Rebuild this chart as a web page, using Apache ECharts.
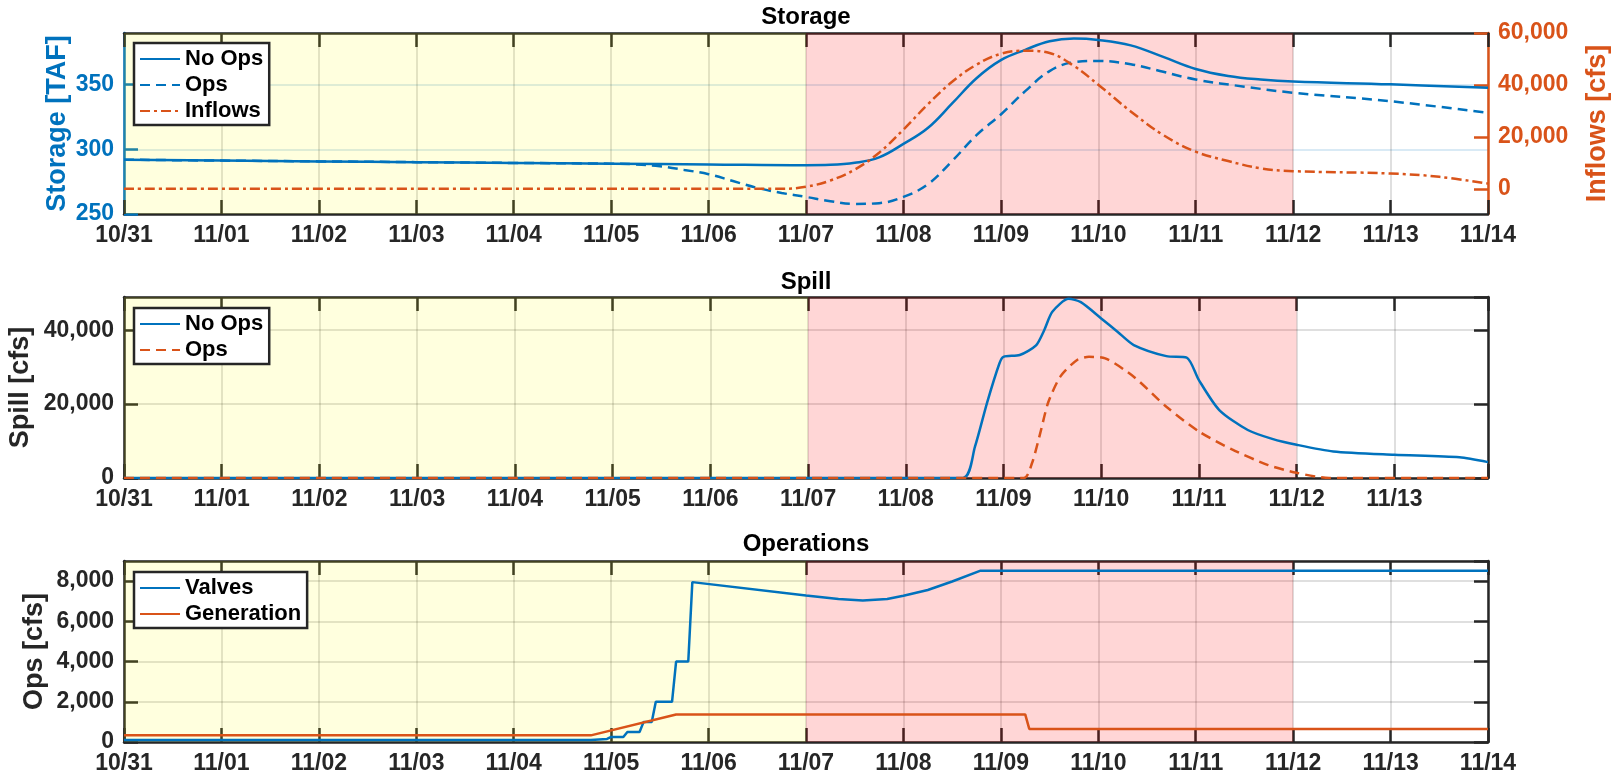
<!DOCTYPE html>
<html>
<head>
<meta charset="utf-8">
<script src="https://cdn.jsdelivr.net/npm/echarts@6/dist/echarts.min.js"></script>
<style>
html, body { margin: 0; padding: 0; background: #fff; }
#chart { width: 1620px; height: 776px; }
</style>
</head>
<body>
<div id="chart"></div>
<script>
// x tick labels, one per day
const dayLabels = ['10/31', '11/01', '11/02', '11/03', '11/04', '11/05', '11/06', '11/07',
  '11/08', '11/09', '11/10', '11/11', '11/12', '11/13', '11/14'];

// shaded periods
const yellowSpan = ['10/31 00', '11/07 00'];
const redSpan = ['11/07 00', '11/12 00'];

// Storage [TAF]
const storageNoOps = [
  ['10/31 00', 292.0], ['11/01 00', 291.3], ['11/02 00', 290.7], ['11/03 00', 290.1],
  ['11/04 00', 289.5], ['11/05 00', 288.9], ['11/06 00', 288.3], ['11/07 00', 287.7],
  ['11/07 06', 288.0], ['11/07 12', 289.6], ['11/07 18', 293.8], ['11/08 00', 304.2],
  ['11/08 06', 316.5], ['11/08 12', 335.5], ['11/08 18', 355.0], ['11/09 00', 369.0],
  ['11/09 06', 377.0], ['11/09 12', 383.6], ['11/09 18', 385.7], ['11/10 00', 384.6],
  ['11/10 08', 380.4], ['11/10 16', 371.5], ['11/11 00', 362.2], ['11/11 08', 356.8],
  ['11/11 16', 354.0], ['11/12 00', 352.4], ['11/13 00', 350.3], ['11/14 00', 347.6]
];
const storageOps = [
  ['10/31 00', 292.0], ['11/01 00', 291.3], ['11/02 00', 290.7], ['11/03 00', 290.1],
  ['11/04 00', 289.5], ['11/05 00', 288.9], ['11/05 06', 288.4], ['11/05 12', 286.9],
  ['11/05 18', 284.1], ['11/06 00', 280.8], ['11/06 06', 275.5], ['11/06 12', 270.2],
  ['11/06 18', 266.3], ['11/07 00', 263.2], ['11/07 06', 259.9], ['11/07 12', 257.8],
  ['11/07 18', 258.4], ['11/08 00', 263.2], ['11/08 06', 273.0], ['11/08 12', 291.0],
  ['11/08 18', 311.0], ['11/09 00', 327.0], ['11/09 06', 345.0], ['11/09 12', 360.5],
  ['11/09 18', 367.4], ['11/10 00', 368.4], ['11/10 08', 365.8], ['11/10 16', 360.0],
  ['11/11 00', 354.0], ['11/11 12', 348.5], ['11/12 00', 343.8], ['11/13 00', 337.2],
  ['11/14 00', 328.2]
];
// Inflows [cfs]
const inflows = [
  ['10/31 00', 0], ['11/06 18', 0], ['11/07 00', 800], ['11/07 06', 3200],
  ['11/07 12', 7400], ['11/07 18', 13900], ['11/08 00', 22800], ['11/08 06', 32500],
  ['11/08 12', 41200], ['11/08 18', 47800], ['11/09 00', 52000], ['11/09 06', 53200],
  ['11/09 12', 52300], ['11/09 18', 47300], ['11/10 00', 40100], ['11/10 08', 29800],
  ['11/10 16', 20700], ['11/11 00', 14300], ['11/11 08', 10700], ['11/11 16', 7900],
  ['11/12 00', 6800], ['11/13 00', 5900], ['11/13 12', 4600], ['11/14 00', 2000]
];

// Spill [cfs]
const spillNoOps = [
  ['10/31 00', 0], ['11/08 14', 0], ['11/08 17', 8500], ['11/08 20', 20500],
  ['11/08 23', 31000], ['11/09 00', 32800], ['11/09 04', 33300], ['11/09 08', 35900],
  ['11/09 10', 40000], ['11/09 12', 45000], ['11/09 16', 48500], ['11/09 19', 47600],
  ['11/10 00', 43200], ['11/10 04', 39600], ['11/10 08', 36000], ['11/10 16', 33000],
  ['11/10 21', 32600], ['11/11 00', 26500], ['11/11 05', 18400], ['11/11 12', 13000],
  ['11/11 18', 10600], ['11/12 00', 9000], ['11/12 09', 7200], ['11/13 00', 6300],
  ['11/13 16', 5600], ['11/13 23', 4300]
];
const spillOps = [
  ['10/31 00', 0], ['11/09 05', 0], ['11/09 07', 4000], ['11/09 09', 12000],
  ['11/09 11', 20500], ['11/09 14', 27500], ['11/09 18', 31900], ['11/09 21', 32800],
  ['11/10 01', 32400], ['11/10 08', 27400], ['11/10 16', 19300], ['11/11 00', 12600],
  ['11/11 08', 7800], ['11/11 17', 3500], ['11/12 00', 1400], ['11/12 08', 0],
  ['11/13 23', 0]
];

// Operations [cfs]
const valves = [
  ['10/31 00', 100], ['11/04 19', 100], ['11/04 23', 150], ['11/05 00', 250],
  ['11/05 03', 250], ['11/05 04', 500], ['11/05 07', 500], ['11/05 08', 1000],
  ['11/05 10', 1000], ['11/05 11', 2000], ['11/05 15', 2000], ['11/05 16', 4000],
  ['11/05 19', 4000], ['11/05 20', 7950], ['11/07 00', 7290], ['11/07 08', 7110],
  ['11/07 14', 7040], ['11/07 20', 7110], ['11/08 00', 7270], ['11/08 06', 7560],
  ['11/08 12', 7980], ['11/08 19', 8520], ['11/14 00', 8520]
];
const generation = [
  ['10/31 00', 330], ['11/04 19', 330], ['11/05 16', 1370], ['11/09 06', 1370],
  ['11/09 07', 650], ['11/14 00', 650]
];

// hours since 10/31 00:00
function hrs(t) {
  const parts = t.split(' ');
  const md = parts[0].split('/').map(Number);
  const day = md[0] === 10 ? md[1] - 31 : md[1];
  return day * 24 + Number(parts[1] || 0);
}
function pts(arr) {
  return arr.map(p => [hrs(p[0]), p[1]]);
}

const FONT = '"Liberation Sans", Arial, Helvetica, sans-serif';
const INK = '#262626';
const BLUE = '#0072BD';
const ORANGE = '#D95319';
const num = v => Math.round(v).toLocaleString('en-US');
const dayFmt = v => (v % 24 === 0 && dayLabels[v / 24]) ? dayLabels[v / 24] : '';

const GL = 124, GW = 1364;
const grids = [
  { left: GL, width: GW, top: 33, height: 181 },
  { left: GL, width: GW, top: 297, height: 181 },
  { left: GL, width: GW, top: 561, height: 181 }
];
grids.forEach(g => { g.outerBoundsMode = 'none'; g.containLabel = false; });

function xPair(gi, max) {
  const line = { show: true, onZero: false, lineStyle: { color: INK, width: 2.5 } };
  const tick = { show: true, inside: true, length: 14, lineStyle: { color: INK, width: 2.5 } };
  return [{
    type: 'value', gridIndex: gi, position: 'bottom', min: 0, max: max, interval: 24,
    axisLine: line, axisTick: tick,
    axisLabel: { formatter: dayFmt, fontSize: 23, fontWeight: 'bold', color: INK, fontFamily: FONT, margin: 10 },
    splitLine: { show: true, lineStyle: { color: 'rgba(38,38,38,0.15)', width: 2 } }
  }, {
    type: 'value', gridIndex: gi, position: 'top', min: 0, max: max, interval: 24,
    axisLine: line, axisTick: tick, axisLabel: { show: false }, splitLine: { show: false }
  }];
}

function yAxis(gi, pos, o) {
  const color = o.color || INK;
  return {
    type: 'value', gridIndex: gi, position: pos, min: o.min, max: o.max, interval: o.interval,
    name: o.name || '', nameLocation: 'middle', nameRotate: 90, nameGap: o.gap || 0,
    nameMoveOverlap: false,
    nameTextStyle: { fontSize: 27, fontWeight: 'bold', color: color, fontFamily: FONT },
    axisLine: { show: true, onZero: false, lineStyle: { color: color, width: 2.5 } },
    axisTick: { show: true, inside: true, length: 14, customValues: o.ticks,
      lineStyle: { color: color, width: 2.5 } },
    axisLabel: { show: o.labels !== false, formatter: num, showMaxLabel: o.showMax || false,
      customValues: o.ticks, fontSize: 23, fontWeight: 'bold', color: color, fontFamily: FONT, margin: 10 },
    splitLine: { show: !!o.split, lineStyle: { color: o.split, width: 2 } }
  };
}

function line(name, xi, yi, data, color, type, smooth) {
  return {
    name: name, type: 'line', xAxisIndex: xi, yAxisIndex: yi, data: pts(data),
    showSymbol: false, symbol: 'none', smooth: smooth, z: 2,
    lineStyle: { color: color, width: 2.5, type: type }, itemStyle: { color: color }
  };
}

function shade(xi, yi) {
  return {
    type: 'line', xAxisIndex: xi, yAxisIndex: yi, data: [], silent: true, z: 3,
    markArea: {
      silent: true,
      data: [
        [{ xAxis: hrs(yellowSpan[0]), itemStyle: { color: 'rgba(255,255,0,0.13)' } }, { xAxis: hrs(yellowSpan[1]) }],
        [{ xAxis: hrs(redSpan[0]), itemStyle: { color: 'rgba(255,0,0,0.16)' } }, { xAxis: hrs(redSpan[1]) }]
      ]
    }
  };
}

function legend(top, names) {
  return {
    orient: 'vertical', left: 134, top: top, data: names, z: 10,
    padding: [5, 6, 3, 5], itemGap: 4, itemWidth: 40, itemHeight: 14,
    backgroundColor: '#fff', borderColor: INK, borderWidth: 2.5, borderRadius: 0,
    itemStyle: { opacity: 0, borderWidth: 0 },
    formatter: n => n.replace('Spill ', ''),
    textStyle: { fontSize: 22, fontWeight: 'bold', color: '#000', fontFamily: FONT }
  };
}

function title(text, top) {
  return {
    text: text, left: GL + GW / 2, top: top, textAlign: 'center', padding: 0,
    textStyle: { fontSize: 24, fontWeight: 'bold', color: '#000', fontFamily: FONT }
  };
}

const DASH = [10, 6];
const DASHDOT = [10, 4, 3, 4];

const option = {
  animation: false,
  backgroundColor: '#fff',
  title: [title('Storage', 5), title('Spill', 270), title('Operations', 532)],
  grid: grids,
  xAxis: [].concat(xPair(0, 336), xPair(1, 335), xPair(2, 336)),
  yAxis: [
    yAxis(0, 'left', { min: 250, max: 390, interval: 50, color: BLUE, name: 'Storage [TAF]', gap: 53,
      split: 'rgba(0,114,189,0.15)' }),
    yAxis(0, 'right', { min: -9700, max: 60000, color: ORANGE, name: 'Inflows [cfs]', gap: 96,
      ticks: [0, 20000, 40000, 60000], showMax: true }),
    yAxis(1, 'left', { min: 0, max: 49000, interval: 20000, name: 'Spill [cfs]', gap: 90,
      split: 'rgba(38,38,38,0.15)' }),
    yAxis(1, 'right', { min: 0, max: 49000, interval: 20000, labels: false }),
    yAxis(2, 'left', { min: 0, max: 9000, interval: 2000, name: 'Ops [cfs]', gap: 76,
      split: 'rgba(38,38,38,0.15)' }),
    yAxis(2, 'right', { min: 0, max: 9000, interval: 2000, labels: false })
  ],
  legend: [
    legend(43, ['No Ops', 'Ops', 'Inflows']),
    legend(308, ['Spill No Ops', 'Spill Ops']),
    legend(572, ['Valves', 'Generation'])
  ],
  series: [
    line('No Ops', 0, 0, storageNoOps, BLUE, 'solid', 0.4),
    line('Ops', 0, 0, storageOps, BLUE, DASH, 0.4),
    line('Inflows', 0, 1, inflows, ORANGE, DASHDOT, 0.4),
    shade(0, 0),
    line('Spill No Ops', 2, 2, spillNoOps, BLUE, 'solid', 0.25),
    line('Spill Ops', 2, 2, spillOps, ORANGE, DASH, 0.25),
    shade(2, 2),
    line('Valves', 4, 4, valves, BLUE, 'solid', false),
    line('Generation', 4, 4, generation, ORANGE, 'solid', false),
    shade(4, 4)
  ]
};

const myChart = echarts.init(document.getElementById('chart'));
myChart.setOption(option);
window.addEventListener('resize', () => { myChart.resize(); }, true);
</script>
</body>
</html>
